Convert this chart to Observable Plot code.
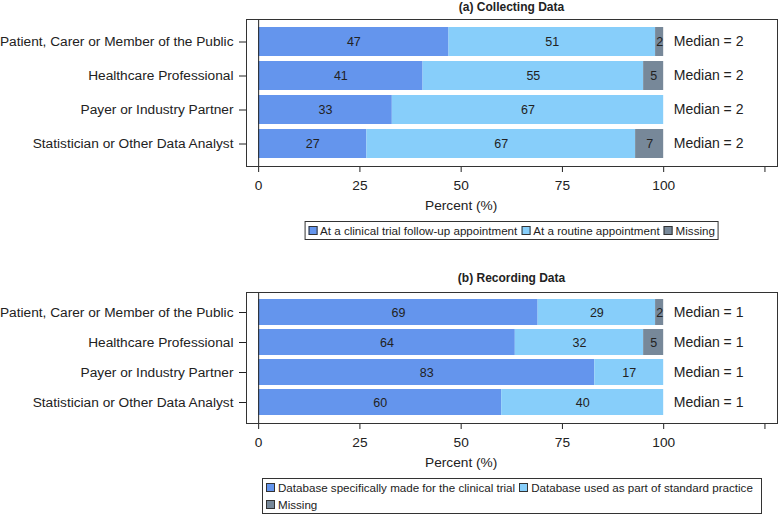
<!DOCTYPE html>
<html>
<head>
<meta charset="utf-8">
<script src="https://cdn.jsdelivr.net/npm/d3@7"></script>
<script src="https://cdn.jsdelivr.net/npm/@observablehq/plot@0.6"></script>
<style>
  body { margin: 0; background: #fff; }
  #chart { position: relative; width: 778px; height: 515px; font-family: "Liberation Sans", Arial, sans-serif; color: #222; overflow: hidden; }
  #chart svg { position: absolute; left: 0; }
  .title { position: absolute; left: 246px; width: 531px; text-align: center; font-weight: bold; font-size: 12px; line-height: 14px; }
  .legend { position: absolute; border: 1px solid #333; font-size: 11.6px; display: flex; flex-wrap: wrap; padding: 0 3px; box-sizing: border-box; background: #fff; }
  .item { display: flex; align-items: center; margin-right: 4px; height: 17px; white-space: nowrap; }
  .item:last-child { margin-right: 0; }
  .sw { width: 9px; height: 9px; border: 1px solid #333; margin-right: 3px; box-sizing: border-box; }
</style>
</head>
<body>
<div id="chart"></div>
<script>
// Respondent roles (rows of both panels)
const roles = [
  "Patient, Carer or Member of the Public",
  "Healthcare Professional",
  "Payer or Industry Partner",
  "Statistician or Other Data Analyst"
];

// (a) Collecting Data
const collectTitle = "(a) Collecting Data";
const collectSeries = ["At a clinical trial follow-up appointment", "At a routine appointment", "Missing"];
const collectTrial = [47, 41, 33, 27];
const collectRoutine = [51, 55, 67, 67];
const collectMissing = [2, 5, 0, 7];
const collectMedian = [2, 2, 2, 2];

// (b) Recording Data
const recordTitle = "(b) Recording Data";
const recordSeries = ["Database specifically made for the clinical trial", "Database used as part of standard practice", "Missing"];
const recordTrial = [69, 64, 83, 60];
const recordStandard = [29, 32, 17, 40];
const recordMissing = [2, 5, 0, 0];
const recordMedian = [1, 1, 1, 1];

// Shared x axis
const xTicks = [0, 25, 50, 75, 100, 125];
const xTickLabels = ["0", "25", "50", "75", "100", ""];
const xLabel = "Percent (%)";
const colors = ["#6495ED", "#87CEFA", "#778899"];

const chart = document.getElementById("chart");

function addTitle(text, top) {
  const d = document.createElement("div");
  d.className = "title";
  d.style.top = top + "px";
  d.textContent = text;
  chart.appendChild(d);
}

function addLegend(series, opts) {
  const box = document.createElement("div");
  box.className = "legend";
  box.style.top = opts.top + "px";
  if (opts.width) {
    box.style.left = opts.left + "px";
    box.style.width = opts.width + "px";
  } else {
    box.style.width = "max-content";
    box.style.left = opts.center + "px";
    box.style.transform = "translateX(-50%)";
  }
  series.forEach((s, i) => {
    const item = document.createElement("div");
    item.className = "item";
    const sw = document.createElement("div");
    sw.className = "sw";
    sw.style.background = colors[i];
    const t = document.createElement("span");
    t.textContent = s;
    item.appendChild(sw);
    item.appendChild(t);
    box.appendChild(item);
  });
  chart.appendChild(box);
}

function panel({series, values, medians, top, height, marginTop, marginBottom, paddingInner, paddingOuter, labelOffset}) {
  const rows = [];
  roles.forEach((role, i) => {
    series.forEach((s, j) => {
      const v = values[j][i];
      if (v > 0) rows.push({role, series: s, value: v});
    });
  });
  const stack = {offset: "normalize", x: "value", y: "role", z: "series"};
  const svg = Plot.plot({
    width: 778,
    height,
    marginLeft: 246,
    marginRight: 1,
    marginTop,
    marginBottom,
    style: {fontFamily: "Liberation Sans, Arial, sans-serif", fontSize: "13.7px", color: "#222", background: "transparent", overflow: "visible"},
    x: {
      domain: [-0.03, 1.281],
      ticks: xTicks.map(t => t / 100),
      tickFormat: d => xTickLabels[xTicks.indexOf(Math.round(d * 100))],
      tickSize: 6,
      tickPadding: 8,
      label: null
    },
    y: {domain: roles, paddingInner, paddingOuter, tickSize: 7, tickPadding: 6, label: null},
    color: {domain: series, range: colors},
    marks: [
      Plot.barX(rows, Plot.stackX({...stack, fill: "series"})),
      Plot.textX(rows, Plot.stackX({...stack, text: "value", fill: "#222", fontSize: 12.5})),
      Plot.ruleX([0], {stroke: "#222"}),
      Plot.text(roles, {x: () => 1.025, y: d => d, text: (d, i) => `Median = ${medians[i]}`, textAnchor: "start", fill: "#222", fontSize: 14}),
      Plot.text([xLabel], {x: () => 0.5, frameAnchor: "bottom", dy: labelOffset, text: d => d, fill: "#222"}),
      Plot.frame({stroke: "#333"})
    ]
  });
  svg.style.top = top + "px";
  chart.appendChild(svg);
}

// Panel (a)
addTitle(collectTitle, 0);
panel({
  series: collectSeries,
  values: [collectTrial, collectRoutine, collectMissing],
  medians: collectMedian,
  top: 0, height: 216, marginTop: 19, marginBottom: 50,
  paddingInner: 0.145, paddingOuter: 0.2, labelOffset: 43
});
addLegend(collectSeries, {top: 221, center: 511.5});

// Panel (b)
addTitle(recordTitle, 271);
panel({
  series: recordSeries,
  values: [recordTrial, recordStandard, recordMissing],
  medians: recordMedian,
  top: 272, height: 206, marginTop: 20, marginBottom: 55,
  paddingInner: 0.13, paddingOuter: 0.22, labelOffset: 43
});
addLegend(recordSeries, {top: 478, left: 262, width: 500});
</script>
</body>
</html>
